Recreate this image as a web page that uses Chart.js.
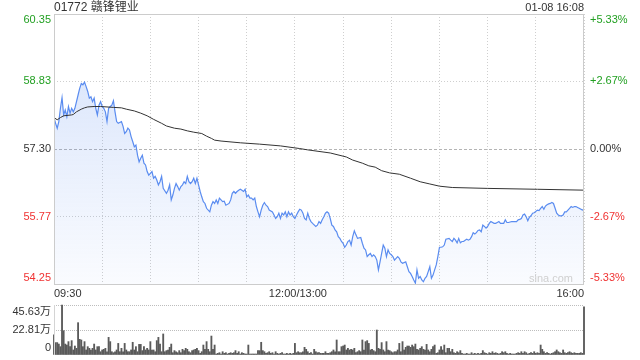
<!DOCTYPE html>
<html><head><meta charset="utf-8">
<script src="https://cdn.jsdelivr.net/npm/chart.js@4.4.1/dist/chart.umd.min.js"></script>
<style>
html,body{margin:0;padding:0;background:#fff;}
#wrap{position:relative;width:640px;height:360px;overflow:hidden;}
#c1{position:absolute;left:0;top:0;}
#c2{position:absolute;left:0;top:300px;}
</style></head><body>
<div id="wrap"><canvas id="c1" width="640" height="300"></canvas><canvas id="c2" width="640" height="60"></canvas></div>
<script>
const titleText = '01772 赣锋锂业';
const stampText = '01-08 16:08';
const watermarkText = 'sina.com';
const prevClose = 57.30;
const priceTicks = [54.25, 55.77, 57.30, 58.83, 60.35];
const pctTicks = ['-5.33%', '-2.67%', '0.00%', '+2.67%', '+5.33%'];
const timeTickMinutes = [0, 150, 330];
const timeTickLabels = ['09:30', '12:00/13:00', '16:00'];
const volTicks = [0, 22.81, 45.63];
const volTickLabels = ['0', '22.81万', '45.63万'];

// minutes since 09:30 (lunch break removed) and last price
const priceMinutes = [
0,1,2,3,4,5,6,7,8,9,10,11,12,13,15,16,17,18,19,20,21,22,23,24,25,26,27,28,29,30,31,32,33,34,35,36,37,38,39,40,
42,43,44,45,46,47,48,49,50,51,52,53,54,55,56,57,58,59,60,61,62,63,64,65,66,67,68,70,71,72,73,74,75,76,77,78,79,80,
81,82,83,84,85,86,87,88,89,90,91,92,93,94,95,97,98,99,100,101,102,103,104,105,106,
107,109,110,111,112,113,114,115,116,117,118,119,120,121,122,123,124,125,126,127,
128,129,130,131,132,133,134,136,137,138,139,140,141,142,143,144,145,146,147,148,
149,150,151,152,153,154,155,156,157,158,159,160,161,163,164,165,166,167,168,169,
170,171,172,173,174,175,176,177,178,179,180,181,182,183,184,185,186,187,188,189,
191,192,193,194,195,196,197,198,199,200,201,202,203,204,205,206,207,208,209,210,
211,212,213,214,215,
216,217,219,220,221,222,223,224,225,226,227,228,229,230,231,232,233,234,235,236,
237,238,239,240,241,242,243,244,246,247,248,249,250,251,252,253,254,255,256,257,
258,259,260,261,262,263,264,265,266,267,268,269,270,271,272,274,275,276,277,278,
279,280,281,282,283,284,285,286,287,288,289,290,291,292,293,294,295,296,297,298,
299,301,302,303,304,305,306,307,308,309,310,311,312,313,314,315,316,317,318,319,
320,321,322,323,324,325,326,327,329,330
];
const prices = [
58.01,57.88,57.77,57.92,58.22,58.46,58.07,58.18,58.03,58.26,
58.11,58.22,58.14,58.22,58.52,58.67,58.78,58.75,58.81,58.71,
58.60,58.45,58.48,58.37,58.45,58.22,58.07,58.29,58.37,58.26,
58.22,58.14,57.92,58.22,58.26,58.29,58.39,58.14,57.92,57.88,
57.92,57.81,57.65,57.69,57.77,57.73,57.58,57.47,57.35,57.39,
57.16,57.01,57.09,57.16,56.98,56.94,56.79,56.71,56.75,56.79,
56.64,56.68,56.60,56.49,56.56,56.68,56.41,56.30,56.37,56.49,
56.15,56.26,56.41,56.52,56.45,56.37,56.45,56.49,56.56,56.52,
56.68,56.56,56.52,56.56,56.64,56.52,56.64,56.49,56.34,56.22,
56.11,56.07,55.96,55.88,56.03,56.11,56.07,56.15,56.07,56.19,
56.15,56.11,56.12,
56.03,56.07,56.15,56.30,56.34,56.30,56.34,56.37,56.39,56.37,
56.34,56.39,56.22,56.26,56.19,56.19,56.15,56.19,56.00,55.88,
55.77,55.92,56.03,56.09,56.03,56.00,55.92,55.88,55.81,55.73,
55.77,55.85,55.73,55.85,55.81,55.88,55.77,55.88,55.81,55.85,
55.77,55.73,55.81,55.88,55.94,55.92,55.85,55.73,55.70,55.85,
55.73,55.66,55.62,55.55,55.58,55.66,55.62,55.70,55.77,55.85,
55.88,55.85,55.73,55.58,55.55,55.47,55.43,55.32,55.28,55.21,
55.17,55.08,55.13,55.21,55.24,55.13,55.32,55.45,55.36,55.28,
55.30,55.17,55.06,55.02,54.87,54.91,54.94,54.87,54.91,54.87,
54.79,54.57,54.75,54.94,55.13,55.06,54.87,55.02,54.94,54.91,
54.87,54.79,54.83,54.87,54.83,
54.75,54.72,54.75,54.64,54.53,54.49,54.42,54.34,54.27,54.57,
54.38,54.42,54.34,54.30,54.38,54.42,54.53,54.64,54.38,54.45,
54.57,54.68,54.87,55.08,55.08,55.09,55.13,55.26,55.28,55.24,
55.21,55.28,55.24,55.18,55.28,55.18,55.21,55.21,55.24,55.26,
55.24,55.26,55.32,55.41,55.38,55.41,55.46,55.47,55.43,55.58,
55.55,55.51,55.55,55.62,55.66,55.62,55.62,55.64,55.66,55.62,
55.62,55.62,55.70,55.64,55.64,55.65,55.66,55.66,55.66,55.66,
55.70,55.71,55.73,55.81,55.83,55.77,55.68,55.76,55.79,55.85,
55.86,55.92,55.91,55.96,56.00,55.94,56.01,56.04,56.06,56.07,
56.09,56.07,55.96,55.85,55.81,55.79,55.79,55.81,55.88,55.88,
55.92,55.96,56.00,55.98,56.00,56.00,55.98,55.96,55.92,55.94
];

// average price line
const avgMinutes = [0,2,4,6,11,12,14,17,19,21,25,29,33,37,42,45,50,54,58,62,67,70,75,79,83,87,92,95,98,100,
104,116,128,141,153,158,172,182,186,192,196,200,204,209,215,222,228,234,240,248,270,301,330];
const avgPrices = [58.01,57.96,58.01,58.05,58.07,58.08,58.14,58.20,58.23,58.25,58.26,58.26,58.25,58.24,58.23,58.20,58.16,58.11,58.05,57.97,
57.88,57.82,57.77,57.75,57.71,57.68,57.65,57.59,57.54,57.50,57.48,57.44,57.41,57.37,57.31,57.28,57.21,57.12,57.05,56.98,
56.92,56.89,56.81,56.76,56.73,56.64,56.56,56.51,56.46,56.43,56.41,56.39,56.37];

// volume per minute, in 万 shares
const volumes = [
18.3,11.3,11.3,10.0,7.6,45.63,22.2,10.0,9.1,12.2,
7.6,13.1,4.6,8.2,6.1,29.5,14.3,13.7,7.6,12.2,
4.6,7.6,6.1,4.6,6.1,10.0,4.6,7.6,7.6,3.0,
4.6,5.2,6.1,3.0,16.1,12.2,3.0,2.1,3.0,4.6,
10.6,3.0,6.1,3.0,10.6,4.6,3.0,3.0,4.6,11.6,
4.6,7.6,3.0,9.7,9.7,4.0,7.6,4.6,6.1,4.6,
12.2,4.6,4.6,3.0,13.1,16.1,10.0,3.0,19.2,3.0,
4.0,4.6,7.0,10.0,2.1,4.0,3.0,2.1,4.0,2.1,
5.2,4.0,6.1,5.2,3.0,2.1,4.0,4.6,5.2,6.1,
4.0,1.5,3.0,9.1,5.2,12.2,5.2,3.0,17.3,5.2,
9.1,0.9,1.5,2.1,0.9,3.0,1.5,2.1,0.9,1.5,
2.1,1.5,2.1,4.0,1.5,3.0,0.9,2.1,1.5,0.9,
0.9,9.1,0.9,0.9,0.9,0.9,0.9,4.0,4.0,11.6,
4.0,3.0,1.5,2.1,3.0,1.5,2.1,0.9,3.0,1.5,
0.9,1.5,2.1,0.9,0.9,1.5,0.9,1.5,0.9,1.5,
10.6,2.1,3.0,2.1,2.1,3.0,7.0,5.2,3.0,1.5,
2.1,0.9,5.2,3.0,2.1,2.1,1.5,1.5,1.5,3.0,
1.5,1.5,2.1,3.0,4.6,3.0,13.7,3.0,3.0,7.6,
8.2,9.1,4.6,6.1,4.6,5.2,4.6,6.1,2.1,3.0,
4.0,3.0,13.7,4.6,12.2,13.1,10.6,4.6,5.2,4.0,
3.0,22.8,6.1,5.2,11.3,4.6,3.0,12.2,4.6,4.0,
3.0,2.1,3.0,3.0,4.6,10.6,3.0,12.2,4.6,7.0,
8.2,8.2,7.0,9.1,7.6,10.0,5.2,4.6,6.1,7.6,
5.2,4.6,9.7,4.6,3.0,5.2,7.6,9.1,1.5,2.1,
4.6,7.6,4.6,9.1,2.1,6.1,6.1,3.0,5.2,2.1,
1.5,3.0,2.1,4.0,1.5,0.9,0.9,1.5,0.9,0.9,
2.1,0.9,1.5,0.9,1.5,0.9,1.5,4.0,2.1,1.5,
0.9,2.1,1.5,3.0,1.5,2.1,1.5,0.9,1.5,3.0,
2.1,3.0,1.5,0.9,1.5,0.9,0.9,0.9,1.5,2.1,
1.5,3.0,1.5,3.0,2.1,0.9,1.5,2.1,1.5,3.0,
1.5,2.1,1.5,9.1,5.2,3.0,1.5,2.1,1.5,0.9,
1.5,2.1,3.0,4.6,3.0,2.1,1.5,4.6,2.1,1.5,
2.1,3.0,2.1,1.5,2.1,1.5,1.5,1.5,2.1,1.5,
44.0
];

const FONT = "'Liberation Sans', Arial, 'Noto Sans CJK SC', sans-serif";
const GREEN = '#22a022', RED = '#f03232', TXT = '#333333';
const BORDER = '#cccccc';

const priceDecor = {
  id: 'priceDecor',
  beforeDatasetsDraw(chart) {
    const c = chart.ctx, a = chart.chartArea, ys = chart.scales.y;
    c.save();
    const y = Math.round(ys.getPixelForValue(prevClose)) + 0.5;
    c.strokeStyle = '#b4b4b4'; c.lineWidth = 1; c.setLineDash([3, 2]);
    c.beginPath(); c.moveTo(a.left, y); c.lineTo(a.right, y); c.stroke();
    c.restore();
  },
  afterDraw(chart) {
    const c = chart.ctx, a = chart.chartArea, ys = chart.scales.y, xs = chart.scales.x;
    c.save();
    c.strokeStyle = BORDER; c.lineWidth = 1; c.setLineDash([]);
    c.strokeRect(a.left + 0.5, a.top + 0.5, a.right - a.left - 1, a.bottom - a.top);
    c.textBaseline = 'middle';
    c.font = '12px ' + FONT; c.fillStyle = TXT; c.textAlign = 'left';
    c.fillText(titleText, a.left, 8);
    c.font = '11px ' + FONT; c.textAlign = 'right';
    c.fillText(stampText, a.right, 8);
    priceTicks.forEach((v, i) => {
      let y = ys.getPixelForValue(v);
      y = Math.min(Math.max(y, a.top + 6), a.bottom - 6);
      const col = v > prevClose + 1e-6 ? GREEN : (v < prevClose - 1e-6 ? RED : TXT);
      c.fillStyle = col;
      c.textAlign = 'right'; c.fillText(v.toFixed(2), a.left - 3, y);
      c.textAlign = 'left'; c.fillText(pctTicks[i], a.right + 6, y);
    });
    c.fillStyle = TXT;
    timeTickMinutes.forEach((m, i) => {
      const x = xs.getPixelForValue(m);
      if (i === 0) { c.textAlign = 'left'; c.fillText(timeTickLabels[i], x, a.bottom + 9.5); }
      else if (i === timeTickMinutes.length - 1) { c.textAlign = 'right'; c.fillText(timeTickLabels[i], x, a.bottom + 9.5); }
      else { c.textAlign = 'center'; c.fillText(timeTickLabels[i], x + 3, a.bottom + 9.5); }
    });
    c.fillStyle = '#d0d0d0'; c.font = '11px ' + FONT; c.textAlign = 'right';
    c.fillText(watermarkText, a.right - 11, a.bottom - 5);
    c.restore();
  }
};

new Chart(document.getElementById('c1'), {
  type: 'line',
  data: { datasets: [
    { label: 'avg', data: avgMinutes.map((m, i) => ({ x: m, y: avgPrices[i] })),
      borderColor: '#333333', borderWidth: 1, pointRadius: 0, fill: false, tension: 0, order: 0 },
    { label: 'price', data: priceMinutes.map((m, i) => ({ x: m, y: prices[i] })),
      borderColor: '#5a8cf0', borderWidth: 1.2, pointRadius: 0, tension: 0, order: 1, fill: 'start',
      backgroundColor: (ctx) => {
        const a = ctx.chart.chartArea;
        if (!a) return 'rgba(90,140,240,0.12)';
        const g = ctx.chart.ctx.createLinearGradient(0, a.top, 0, a.bottom);
        g.addColorStop(0, 'rgba(90,140,240,0.26)');
        g.addColorStop(1, 'rgba(90,140,240,0.03)');
        return g;
      } }
  ] },
  options: {
    responsive: false, animation: false, devicePixelRatio: 1,
    layout: { padding: { top: 14, right: 56, left: 0, bottom: 0 } },
    plugins: { legend: { display: false }, tooltip: { enabled: false } },
    scales: {
      x: { type: 'linear', min: 0, max: 330,
        ticks: { display: false, stepSize: 30 },
        grid: { color: '#cfcfcf', drawTicks: false, lineWidth: 1 },
        border: { display: false, dash: [1, 2] },
        afterFit: (s) => { s.height = 16; } },
      y: { type: 'linear', min: 54.25, max: 60.35,
        afterBuildTicks: (s) => { s.ticks = priceTicks.map(v => ({ value: v })); },
        ticks: { display: false },
        grid: { color: (ctx) => (ctx.tick && Math.abs(ctx.tick.value - prevClose) < 1e-6) ? 'rgba(0,0,0,0)' : '#cfcfcf', drawTicks: false },
        border: { display: false, dash: [1, 2] },
        afterFit: (s) => { s.width = 54; } }
    }
  },
  plugins: [priceDecor]
});

const volDecor = {
  id: 'volDecor',
  afterDraw(chart) {
    const c = chart.ctx, a = chart.chartArea, ys = chart.scales.y;
    c.save();
    c.strokeStyle = '#d4d4d4'; c.lineWidth = 1;
    c.beginPath();
    c.moveTo(a.left + 0.5, a.top); c.lineTo(a.left + 0.5, a.bottom);
    c.stroke();
    c.font = '11px ' + FONT; c.fillStyle = TXT; c.textAlign = 'right'; c.textBaseline = 'middle';
    volTicks.forEach((v, i) => {
      let y = ys.getPixelForValue(v);
      y = Math.min(Math.max(y, a.top + 7), a.bottom - 7);
      c.fillText(volTickLabels[i], a.left - 3, y);
    });
    c.restore();
  }
};

new Chart(document.getElementById('c2'), {
  type: 'bar',
  data: { datasets: [
    { label: 'vol', data: volumes.map((v, i) => ({ x: i, y: v })), clip: false,
      backgroundColor: '#5a5a5a', barThickness: 1.2, categoryPercentage: 1, barPercentage: 1 }
  ] },
  options: {
    responsive: false, animation: false, devicePixelRatio: 1,
    layout: { padding: { top: 5, right: 56, left: 0, bottom: 0 } },
    plugins: { legend: { display: false }, tooltip: { enabled: false } },
    scales: {
      x: { type: 'linear', min: 0, max: 330, offset: false,
        ticks: { display: false }, grid: { display: false }, border: { display: false },
        afterFit: (s) => { s.height = 5; } },
      y: { type: 'linear', min: 0, max: 45.63,
        afterBuildTicks: (s) => { s.ticks = volTicks.map(v => ({ value: v })); },
        ticks: { display: false },
        grid: { color: (ctx) => (ctx.tick && ctx.tick.value === 0) ? 'rgba(0,0,0,0)' : '#bdbdbd', drawTicks: false },
        border: { display: false, dash: [1, 1] },
        afterFit: (s) => { s.width = 54; } }
    }
  },
  plugins: [volDecor]
});
</script>
</body></html>
